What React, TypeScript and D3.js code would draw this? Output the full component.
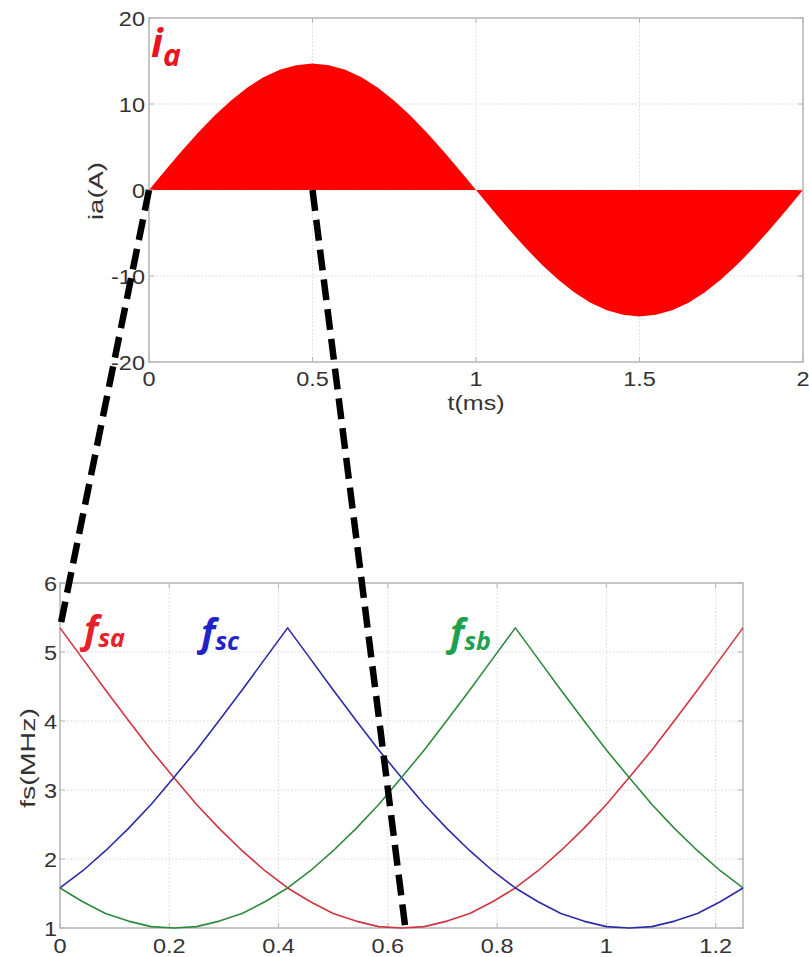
import React from 'react';
import * as d3 from 'd3';

// Phase current ia over one period (samples every 0.05 ms)
const iaStepMs = 0.05;
const iaValues = [
  0, 2.3, 4.54, 6.67, 8.64, 10.39, 11.89, 13.1, 13.98, 14.52, 14.7,
  14.52, 13.98, 13.1, 11.89, 10.39, 8.64, 6.67, 4.54, 2.3, 0,
  -2.3, -4.54, -6.67, -8.64, -10.39, -11.89, -13.1, -13.98, -14.52, -14.7,
  -14.52, -13.98, -13.1, -11.89, -10.39, -8.64, -6.67, -4.54, -2.3, 0,
];
const topXTicks = [0, 0.5, 1, 1.5, 2];
const topYTicks = [-20, -10, 0, 10, 20];

// Switching frequency of the three phases (MHz), samples every 1.25/30
const fsStep = 1.25 / 30;
const fsaValues = [
  5.35, 4.9, 4.45, 4.01, 3.58, 3.18, 2.79, 2.44, 2.12, 1.83, 1.58,
  1.38, 1.21, 1.1, 1.02, 1.0, 1.02, 1.1, 1.21, 1.38, 1.58,
  1.83, 2.12, 2.44, 2.79, 3.18, 3.58, 4.01, 4.45, 4.9, 5.35,
];
const fscValues = [
  1.58, 1.83, 2.12, 2.44, 2.79, 3.18, 3.58, 4.01, 4.45, 4.9, 5.35,
  4.9, 4.45, 4.01, 3.58, 3.18, 2.79, 2.44, 2.12, 1.83, 1.58,
  1.38, 1.21, 1.1, 1.02, 1.0, 1.02, 1.1, 1.21, 1.38, 1.58,
];
const fsbValues = [
  1.58, 1.38, 1.21, 1.1, 1.02, 1.0, 1.02, 1.1, 1.21, 1.38, 1.58,
  1.83, 2.12, 2.44, 2.79, 3.18, 3.58, 4.01, 4.45, 4.9, 5.35,
  4.9, 4.45, 4.01, 3.58, 3.18, 2.79, 2.44, 2.12, 1.83, 1.58,
];
const botXTicks = [0, 0.2, 0.4, 0.6, 0.8, 1, 1.2];
const botXTickLabels = ['0', '0.2', '0.4', '0.6', '0.8', '1', '1.2'];
const botYTicks = [1, 2, 3, 4, 5, 6];

// Zoom connectors: point on the current plot -> point on the frequency plot
const connectors = [
  { t: 0, i: 0, x: 0, f: 5.35 },
  { t: 0.5, i: 0, x: 0.632, f: 1.0 },
];

const AXIS_FONT = '"Liberation Sans", Arial, sans-serif';
const LABEL_FONT = '"Open Sans", "Noto Sans", sans-serif';
const GRID = '#d8d8d8';
const BOX = '#b4b4b4';
const TXT = '#333';
const TICK_FS = 21;
const TICK_SX = 1.12;

function TickText(props: {
  x: number;
  y: number;
  anchor: 'start' | 'middle' | 'end';
  dy?: string;
  children: React.ReactNode;
}) {
  return (
    <text
      transform={`translate(${props.x},${props.y}) scale(${TICK_SX},1)`}
      textAnchor={props.anchor}
      dy={props.dy}
      fontFamily={AXIS_FONT}
      fontSize={TICK_FS}
      fill={TXT}
    >
      {props.children}
    </text>
  );
}

export default function App() {
  const W = 809;
  const H = 957;

  // Top panel scales
  const xT = d3.scaleLinear().domain([0, 2]).range([149, 803]);
  const yT = d3.scaleLinear().domain([-20, 20]).range([362, 18]);
  // Bottom panel scales
  const xB = d3.scaleLinear().domain([0, 1.25]).range([60, 743]);
  const yB = d3.scaleLinear().domain([1, 6]).range([928, 583]);

  const iaData = iaValues.map((v, k) => ({ t: k * iaStepMs, v }));
  const area = d3
    .area<{ t: number; v: number }>()
    .x((d) => xT(d.t))
    .y0(yT(0))
    .y1((d) => yT(d.v));

  const line = d3
    .line<number>()
    .x((_, k) => xB(k * fsStep))
    .y((d) => yB(d));

  const series = [
    { vals: fsaValues, color: '#d0343f' },
    { vals: fscValues, color: '#2b2ba8' },
    { vals: fsbValues, color: '#2f8a3c' },
  ];

  const [tx0, tx1] = xT.range();
  const [ty0, ty1] = yT.range();
  const [bx0, bx1] = xB.range();
  const [by0, by1] = yB.range();
  const tick = 5;

  return (
    <svg
      width={W}
      height={H}
      style={{ position: 'absolute', left: 0, top: 0, background: '#fff' }}
    >
      {/* ---------- Top panel: ia(A) ---------- */}
      <g>
        {topXTicks.slice(1, -1).map((t) => (
          <line key={'tgx' + t} x1={xT(t)} x2={xT(t)} y1={ty0} y2={ty1}
            stroke={GRID} strokeWidth={1} strokeDasharray="1.5,2" />
        ))}
        {topYTicks.slice(1, -1).map((v) => (
          <line key={'tgy' + v} x1={tx0} x2={tx1} y1={yT(v)} y2={yT(v)}
            stroke={GRID} strokeWidth={1} strokeDasharray="1.5,2" />
        ))}
        <path d={area(iaData) || ''} fill="#ff0000" />
        <rect x={tx0} y={ty1} width={tx1 - tx0} height={ty0 - ty1}
          fill="none" stroke={BOX} strokeWidth={1.5} />
        {topXTicks.map((t) => (
          <g key={'txt' + t}>
            <line x1={xT(t)} x2={xT(t)} y1={ty0} y2={ty0 - tick} stroke={BOX} />
            <line x1={xT(t)} x2={xT(t)} y1={ty1} y2={ty1 + tick} stroke={BOX} />
            <TickText x={xT(t)} y={386} anchor="middle">{t}</TickText>
          </g>
        ))}
        {topYTicks.map((v) => (
          <g key={'tyt' + v}>
            <line x1={tx0} x2={tx0 + tick} y1={yT(v)} y2={yT(v)} stroke={BOX} />
            <line x1={tx1} x2={tx1 - tick} y1={yT(v)} y2={yT(v)} stroke={BOX} />
            <TickText x={145} y={yT(v)} anchor="end" dy="0.36em">{v}</TickText>
          </g>
        ))}
        <text x={476} y={410} textAnchor="middle" fontFamily={AXIS_FONT}
          fontSize={21} fill={TXT} textLength={57} lengthAdjust="spacingAndGlyphs">t(ms)</text>
        <text transform="translate(103,191) rotate(-90)" textAnchor="middle"
          fontFamily={AXIS_FONT} fontSize={21} fill={TXT} textLength={58}
          lengthAdjust="spacingAndGlyphs">ia(A)</text>
        <text x={151} y={57} fontFamily={LABEL_FONT} fontStyle="italic"
          fontWeight={700} fill="#e8141e">
          <tspan fontSize={40}>i</tspan>
          <tspan fontSize={30} dy={9}>a</tspan>
        </text>
      </g>

      {/* ---------- Bottom panel: fs(MHz) ---------- */}
      <g>
        {botXTicks.slice(1).map((t) => (
          <line key={'bgx' + t} x1={xB(t)} x2={xB(t)} y1={by0} y2={by1}
            stroke={GRID} strokeWidth={1} strokeDasharray="1.5,2" />
        ))}
        {botYTicks.slice(1, -1).map((v) => (
          <line key={'bgy' + v} x1={bx0} x2={bx1} y1={yB(v)} y2={yB(v)}
            stroke={GRID} strokeWidth={1} strokeDasharray="1.5,2" />
        ))}
        <rect x={bx0} y={by1} width={bx1 - bx0} height={by0 - by1}
          fill="none" stroke={BOX} strokeWidth={1.5} />
        {botXTicks.map((t, k) => (
          <g key={'bxt' + t}>
            <line x1={xB(t)} x2={xB(t)} y1={by0} y2={by0 - tick} stroke={BOX} />
            <line x1={xB(t)} x2={xB(t)} y1={by1} y2={by1 + tick} stroke={BOX} />
            <TickText x={xB(t)} y={953} anchor="middle">{botXTickLabels[k]}</TickText>
          </g>
        ))}
        {botYTicks.map((v) => (
          <g key={'byt' + v}>
            <line x1={bx0} x2={bx0 + tick} y1={yB(v)} y2={yB(v)} stroke={BOX} />
            <line x1={bx1} x2={bx1 - tick} y1={yB(v)} y2={yB(v)} stroke={BOX} />
            <TickText x={57} y={yB(v)} anchor="end" dy="0.36em">{v}</TickText>
          </g>
        ))}
        <text transform="translate(35,758) rotate(-90)" textAnchor="middle"
          fontFamily={AXIS_FONT} fontSize={21} fill={TXT} textLength={100}
          lengthAdjust="spacingAndGlyphs">fs(MHz)</text>

        {series.map((s, k) => (
          <path key={'s' + k} d={line(s.vals) || ''} fill="none"
            stroke={s.color} strokeWidth={1.6} strokeLinejoin="round" />
        ))}

        <text x={84} y={643} fontFamily={LABEL_FONT} fontStyle="italic"
          fontWeight={700} fill="#e8202a">
          <tspan fontSize={38}>f</tspan>
          <tspan fontSize={25} dy={4}>sa</tspan>
        </text>
        <text x={201} y={646} fontFamily={LABEL_FONT} fontStyle="italic"
          fontWeight={700} fill="#2222c8">
          <tspan fontSize={38}>f</tspan>
          <tspan fontSize={25} dy={4}>sc</tspan>
        </text>
        <text x={450} y={646} fontFamily={LABEL_FONT} fontStyle="italic"
          fontWeight={700} fill="#1ea050">
          <tspan fontSize={38}>f</tspan>
          <tspan fontSize={25} dy={4}>sb</tspan>
        </text>
      </g>

      {/* ---------- Dashed zoom connectors ---------- */}
      {connectors.map((c, k) => (
        <line key={'c' + k} x1={xT(c.t)} y1={yT(c.i)} x2={xB(c.x)} y2={yB(c.f)}
          stroke="#000" strokeWidth={6.5} strokeDasharray="21,9" />
      ))}
    </svg>
  );
}
